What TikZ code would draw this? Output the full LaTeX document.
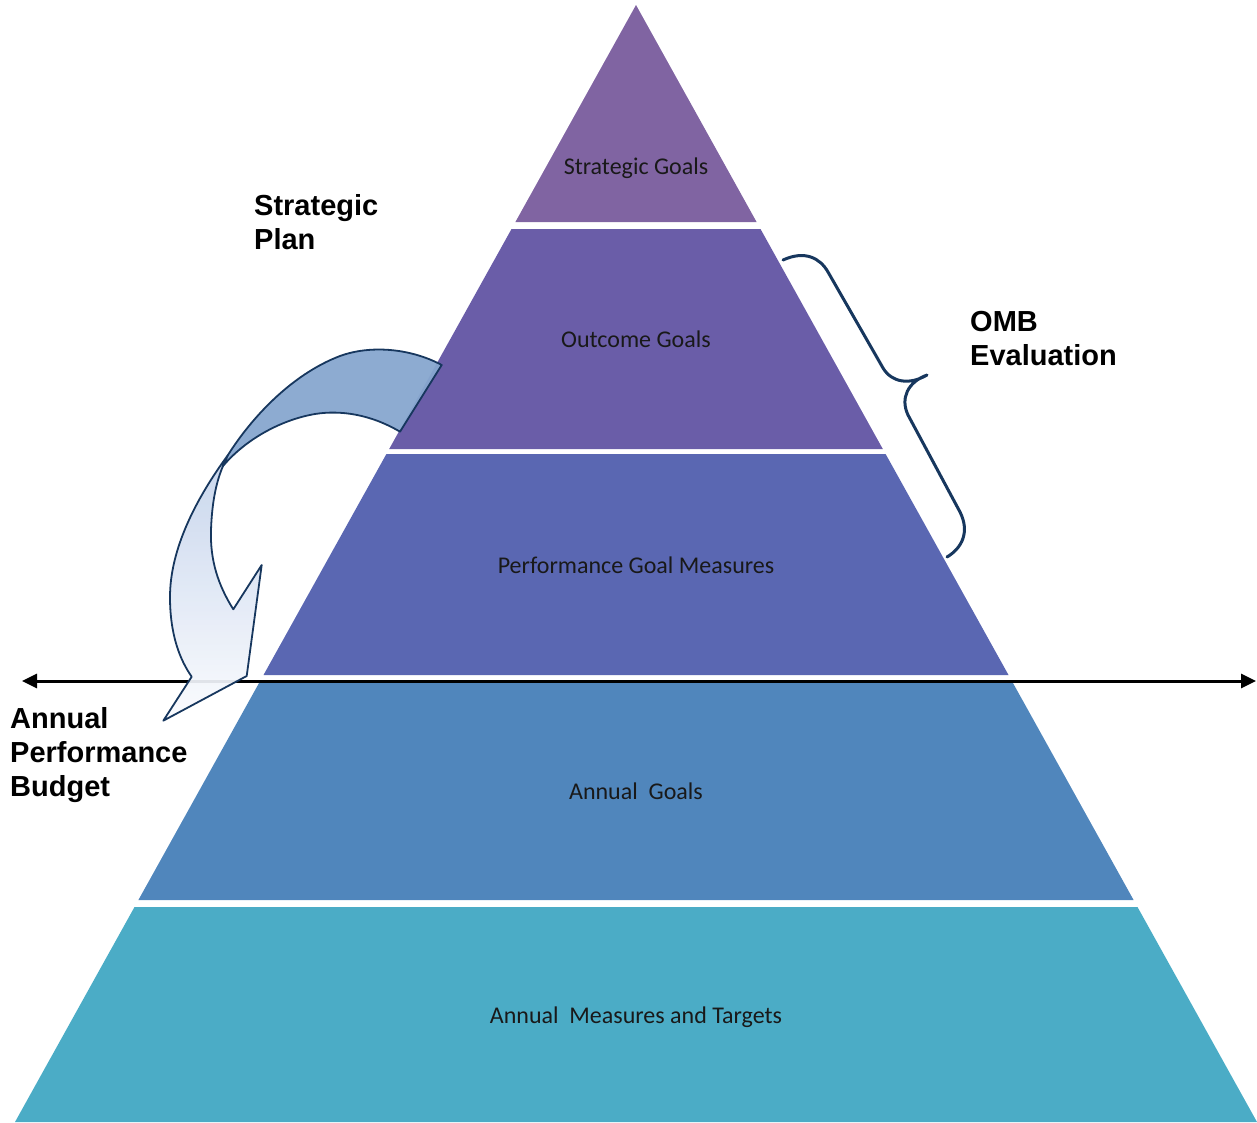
\documentclass[tikz,border=0pt]{standalone}
\usepackage{fontspec}
\setmainfont{Liberation Sans}
\newfontfamily\calib{Carlito}
\usetikzlibrary{arrows.meta}
\definecolor{layA}{RGB}{128,100,162}
\definecolor{layB}{RGB}{106,93,168}
\definecolor{layC}{RGB}{90,103,178}
\definecolor{layD}{RGB}{80,134,188}
\definecolor{layE}{RGB}{75,172,198}
\definecolor{navy}{RGB}{23,55,94}
\definecolor{bandblue}{RGB}{135,167,207}
\definecolor{arrtop}{RGB}{196,211,235}
\definecolor{arrbot}{RGB}{250,251,254}
\begin{document}
\begin{tikzpicture}[x=1pt,y=-1pt,
  layertxt/.style={font=\calib\fontsize{24}{28}\selectfont, text=black!90, inner sep=0pt},
  sidelbl/.style={font=\bfseries\fontsize{29}{34}\selectfont, align=left, anchor=north west, inner sep=0pt},
  outl/.style={draw=navy, line width=1.8pt, line join=round}]
\useasboundingbox (0,0) rectangle (1257,1122);
% pyramid layers
\fill[layA] (636,5) -- (756.6,222) -- (515.4,222) -- cycle;
\fill[layB] (511.5,229) -- (760.5,229) -- (882.8,449) -- (389.2,449) -- cycle;
\fill[layC] (386.4,454) -- (885.6,454) -- (1008.5,675) -- (263.5,675) -- cycle;
\fill[layD] (259.6,682) -- (1012.4,682) -- (1133.6,900) -- (138.4,900) -- cycle;
\fill[layE] (134.5,907) -- (1137.5,907) -- (1257,1122) -- (15,1122) -- cycle;
% layer labels
\node[layertxt] (sg) at (636,168) {Strategic Goals};
\node[layertxt] (og) at (636,339) {Outcome Goals};
\node[layertxt] (pg) at (636,565) {Performance Goal Measures};
\node[layertxt] (ag) at (636,791) {Annual~~Goals};
\node[layertxt] (am) at (636,1017) {Annual~~Measures and Targets};
% horizontal double arrow
\coordinate (hl) at (22,681);
\coordinate (hr) at (1256,681);
\draw[line width=3pt, {Triangle[length=15pt,width=14pt]}-{Triangle[length=15pt,width=14pt]}] (hl) -- (hr);
% curved arrow: lower (front) part
\shadedraw[outl, top color=arrtop, bottom color=arrbot, fill opacity=0.93]
  (228,455) .. controls (195,500) and (170,550) .. (170,597)
  .. controls (170,635) and (180,660) .. (191.7,676.7)
  -- (163.3,720.7) -- (246.7,676) -- (261.7,565) -- (233.3,609.3)
  .. controls (218,585) and (210,560) .. (211,530)
  .. controls (212,500) and (217,480) .. (223,466) -- cycle;
% curved arrow: upper (back) band
\filldraw[outl, fill=bandblue, fill opacity=0.95]
  (441.7,365) -- (400,431.7)
  .. controls (370,414) and (340,410) .. (315,414)
  .. controls (280,420) and (245,440) .. (223,466)
  -- (228,455)
  .. controls (250,420) and (290,375) .. (340,356)
  .. controls (370,345) and (410,348) .. (441.7,365) -- cycle;
% brace
\draw[navy, line width=3pt, line cap=round, line join=round]
  (783,260) .. controls (805,250) and (820,258) .. (828,272) -- (883,368)
  .. controls (892,383) and (910,385) .. (927,375)
  .. controls (908,382) and (900,398) .. (908,415) -- (960,512)
  .. controls (970,532) and (962,548) .. (947,557);
% side labels
\node[sidelbl] (sp) at (254,194.5) {Strategic\\Plan};
\node[sidelbl] (omb) at (970,311.5) {OMB\\Evaluation};
\node[sidelbl] (apb) at (10,707.5) {Annual\\Performance\\Budget};
\end{tikzpicture}
\end{document}
